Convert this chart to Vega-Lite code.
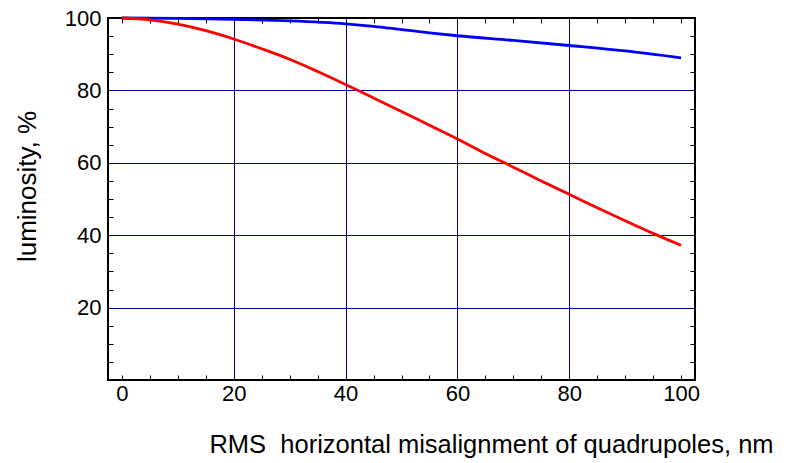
{
  "$schema": "https://vega.github.io/schema/vega-lite/v6.json",
  "width": 587,
  "height": 362,
  "autosize": "none",
  "padding": {"left": 108, "top": 18, "right": 101, "bottom": 83},
  "background": "white",
  "config": {
    "view": {"stroke": "black", "strokeWidth": 2},
    "font": "Liberation Sans"
  },
  "data": {
    "values": [
      {"x": 0, "lum": 100, "s": "b"},
      {"x": 10, "lum": 99.9, "s": "b"},
      {"x": 20, "lum": 99.6, "s": "b"},
      {"x": 30, "lum": 99.2, "s": "b"},
      {"x": 40, "lum": 98.4, "s": "b"},
      {"x": 45, "lum": 97.7, "s": "b"},
      {"x": 50, "lum": 96.8, "s": "b"},
      {"x": 55, "lum": 95.9, "s": "b"},
      {"x": 60, "lum": 95.1, "s": "b"},
      {"x": 70, "lum": 93.8, "s": "b"},
      {"x": 80, "lum": 92.4, "s": "b"},
      {"x": 90, "lum": 90.9, "s": "b"},
      {"x": 100, "lum": 89.0, "s": "b"},
      {"x": 0, "lum": 100, "s": "r"},
      {"x": 5, "lum": 99.5, "s": "r"},
      {"x": 10, "lum": 98.3, "s": "r"},
      {"x": 15, "lum": 96.5, "s": "r"},
      {"x": 20, "lum": 94.2, "s": "r"},
      {"x": 25, "lum": 91.5, "s": "r"},
      {"x": 30, "lum": 88.6, "s": "r"},
      {"x": 35, "lum": 85.2, "s": "r"},
      {"x": 40, "lum": 81.6, "s": "r"},
      {"x": 45, "lum": 77.9, "s": "r"},
      {"x": 50, "lum": 74.2, "s": "r"},
      {"x": 55, "lum": 70.4, "s": "r"},
      {"x": 60, "lum": 66.6, "s": "r"},
      {"x": 65, "lum": 62.6, "s": "r"},
      {"x": 70, "lum": 58.8, "s": "r"},
      {"x": 75, "lum": 55.0, "s": "r"},
      {"x": 80, "lum": 51.3, "s": "r"},
      {"x": 85, "lum": 47.6, "s": "r"},
      {"x": 90, "lum": 44.0, "s": "r"},
      {"x": 95, "lum": 40.5, "s": "r"},
      {"x": 100, "lum": 37.2, "s": "r"}
    ]
  },
  "layer": [
    {
      "mark": {"type": "line", "strokeWidth": 2.8, "interpolate": "monotone"},
      "encoding": {
        "x": {
          "field": "x", "type": "quantitative",
          "scale": {"domain": [-2.5, 102.5], "nice": false, "zero": false},
          "axis": {
            "orient": "bottom",
            "values": [0,5,10,15,20,25,30,35,40,45,50,55,60,65,70,75,80,85,90,95,100],
            "labelExpr": "datum.value % 20 === 0 ? datum.label : ''",
            "domain": false,
            "grid": true,
            "gridColor": "#00008b",
            "gridWidth": 1,
            "gridOpacity": {"condition": {"test": "datum.value % 20 === 0 && datum.value > 0 && datum.value < 100", "value": 1}, "value": 0},
            "tickSize": -5,
            "tickColor": "black",
            "tickWidth": 1,
            "labelPadding": 8,
            "labelFontSize": 22,
            "labelColor": "black",
            "labelFlush": false,
            "title": "RMS\u00a0 horizontal misalignment of quadrupoles, nm",
            "titleFontSize": 25.5,
            "titleFontWeight": "normal",
            "titleColor": "black",
            "titleAnchor": "middle",
            "titleX": 383,
            "titleY": 72,
            "titleBaseline": "alphabetic"
          }
        },
        "y": {
          "field": "lum", "type": "quantitative",
          "scale": {"domain": [0, 100], "nice": false},
          "axis": {
            "orient": "left",
            "values": [5,10,15,20,25,30,35,40,45,50,55,60,65,70,75,80,85,90,95,100],
            "labelExpr": "datum.value % 20 === 0 ? datum.label : ''",
            "domain": false,
            "grid": true,
            "gridColor": "#00008b",
            "gridWidth": 1,
            "gridOpacity": {"condition": {"test": "datum.value % 20 === 0 && datum.value > 0 && datum.value < 100", "value": 1}, "value": 0},
            "tickSize": -5,
            "tickColor": "black",
            "tickWidth": 1,
            "labelPadding": 12,
            "labelFontSize": 22,
            "labelColor": "black",
            "labelFlush": false,
            "title": "luminosity, %",
            "titleFontSize": 26,
            "titleFontWeight": "normal",
            "titleColor": "black",
            "titleAngle": -90,
            "titleAnchor": "middle",
            "titleX": -73,
            "titleY": 168,
            "titleBaseline": "alphabetic"
          }
        },
        "color": {
          "field": "s", "type": "nominal",
          "scale": {"domain": ["b", "r"], "range": ["#0000ff", "#ff0000"]},
          "legend": null
        }
      }
    },
    {
      "mark": {"type": "line", "opacity": 0},
      "encoding": {
        "x": {
          "field": "x", "type": "quantitative",
          "axis": {
            "orient": "top",
            "values": [0,5,10,15,20,25,30,35,40,45,50,55,60,65,70,75,80,85,90,95,100],
            "labels": false, "domain": false, "grid": false,
            "tickSize": -5, "tickColor": "black", "tickWidth": 1, "title": null
          }
        },
        "y": {
          "field": "lum", "type": "quantitative",
          "axis": {
            "orient": "right",
            "values": [5,10,15,20,25,30,35,40,45,50,55,60,65,70,75,80,85,90,95],
            "labels": false, "domain": false, "grid": false,
            "tickSize": -5, "tickColor": "black", "tickWidth": 1, "title": null
          }
        },
        "detail": {"field": "s", "type": "nominal"}
      }
    }
  ],
  "resolve": {"axis": {"x": "independent", "y": "independent"}}
}
